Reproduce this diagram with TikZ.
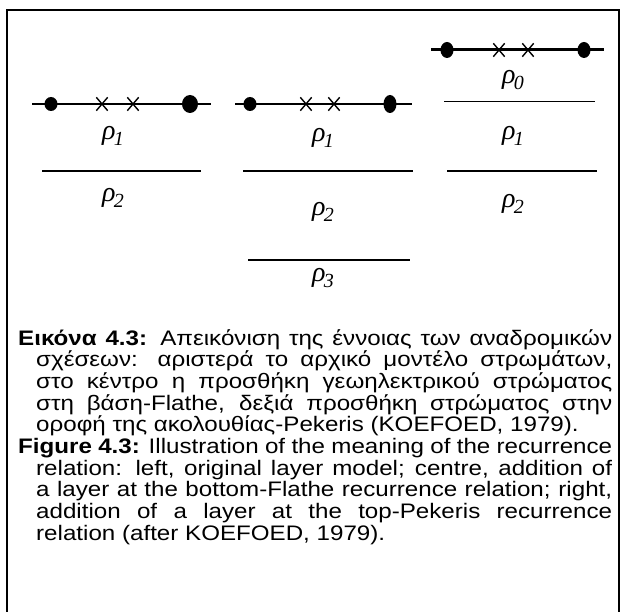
\documentclass[tikz,border=0pt]{standalone}
\usepackage{fontspec}
\setmainfont[FakeStretch=1.15]{Liberation Sans}
\newfontfamily\tms{Liberation Serif}
\usetikzlibrary{shapes.geometric,shapes.misc}
\newcommand{\rh}[1]{{\tms\itshape\fontsize{28}{28}\selectfont ρ\kern-1.5pt\raisebox{-6pt}{\fontsize{20}{20}\selectfont #1}}}
\tikzset{
  frame/.style={line width=2pt},
  surf/.style={line width=2pt},
  surfthick/.style={line width=3pt},
  iface/.style={line width=1.6pt},
  ifacethin/.style={line width=1pt},
  dot/.style={ellipse, fill=black, inner sep=0pt, minimum width=13pt, minimum height=14pt},
  xmk/.style={cross out, draw, inner sep=0pt, minimum width=10pt, minimum height=12pt, line width=1.4pt},
  lab/.style={inner sep=0pt},
  captionbox/.style={inner sep=0pt, text width=594pt, align=justify, anchor=north west, font=\fontsize{21}{21.7}\selectfont}
}
\begin{document}
\begin{tikzpicture}[x=1pt,y=-1pt]
\useasboundingbox (0,0) rectangle (622,612);
% frame
\coordinate (f1) at (7,612); \coordinate (f2) at (7,10);
\coordinate (f3) at (619,10); \coordinate (f4) at (619,612);
\draw[frame] (f1) -- (f2) -- (f3) -- (f4);
% left group
\coordinate (la) at (32,104); \coordinate (lb) at (211,104);
\draw[surf] (la) -- (lb);
\node[dot] (ld1) at (51,104) {};
\node[dot, minimum width=16pt, minimum height=18pt] (ld2) at (190,104) {};
\node[xmk] (lx1) at (102,104) {};
\node[xmk] (lx2) at (133,104) {};
\coordinate (lc) at (42,171); \coordinate (ld) at (201,171);
\draw[iface] (lc) -- (ld);
\node[lab] (lr1) at (113,136) {\rh{1}};
\node[lab] (lr2) at (113,198) {\rh{2}};
% middle group
\coordinate (ma) at (235,104); \coordinate (mb) at (412,104);
\draw[surf] (ma) -- (mb);
\node[dot] (md1) at (250,104) {};
\node[dot, minimum height=18pt] (md2) at (390,104) {};
\node[xmk] (mx1) at (306,104) {};
\node[xmk] (mx2) at (334,104) {};
\coordinate (mc) at (243,171); \coordinate (md) at (413,171);
\draw[iface] (mc) -- (md);
\coordinate (me) at (248,260); \coordinate (mf) at (410,260);
\draw[iface] (me) -- (mf);
\node[lab] (mr1) at (323,138) {\rh{1}};
\node[lab] (mr2) at (323,212) {\rh{2}};
\node[lab] (mr3) at (323,278) {\rh{3}};
% right group
\coordinate (ra) at (431,50); \coordinate (rb) at (604,50);
\draw[surfthick] (ra) -- (rb);
\node[dot, minimum height=16pt] (rd1) at (447,50) {};
\node[dot, minimum height=16pt] (rd2) at (584,50) {};
\node[xmk] (rx1) at (499,50) {};
\node[xmk] (rx2) at (528,50) {};
\coordinate (rc) at (444,102); \coordinate (rd) at (595,102);
\draw[ifacethin] (rc) -- (rd);
\coordinate (re) at (447,171); \coordinate (rf) at (597,171);
\draw[iface] (re) -- (rf);
\node[lab] (rr0) at (513,80) {\rh{0}};
\node[lab] (rr1) at (513,136) {\rh{1}};
\node[lab] (rr2) at (513,204) {\rh{2}};
% caption
\node[captionbox] (caption) at (18,329) {%
\hangindent=18pt\hangafter=1
\textbf{Εικόνα 4.3:} Απεικόνιση της έννοιας των αναδρομικών\linebreak
σχέσεων: αριστερά το αρχικό μοντέλο στρωμάτων,\linebreak
στο κέντρο η προσθήκη γεωηλεκτρικού στρώματος\linebreak
στη βάση-Flathe, δεξιά προσθήκη στρώματος στην\linebreak
οροφή της ακολουθίας-Pekeris (KOEFOED, 1979).\par
\hangindent=18pt\hangafter=1
\textbf{Figure 4.3:} Illustration of the meaning of the recurrence\linebreak
relation: left, original layer model; centre, addition of\linebreak
a layer at the bottom-Flathe recurrence relation; right,\linebreak
addition of a layer at the top-Pekeris recurrence\linebreak
relation (after KOEFOED, 1979).\par};
\end{tikzpicture}
\end{document}
